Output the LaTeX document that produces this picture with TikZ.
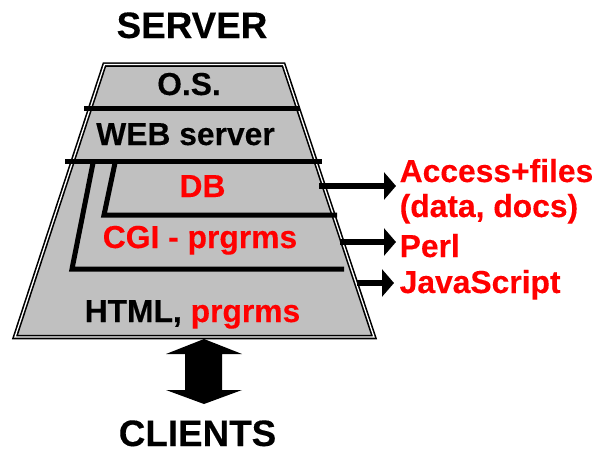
\documentclass[tikz,border=0pt]{standalone}
\usepackage{fontspec}
\setmainfont[FakeBold=0.25]{Liberation Sans}
\usetikzlibrary{arrows.meta}
\definecolor{layergray}{RGB}{192,192,192}
\definecolor{pure}{RGB}{255,0,0}
\tikzset{
  big/.style={anchor=base,inner sep=0pt,font=\fontsize{36.8}{40}\selectfont\bfseries},
  lab/.style={anchor=base west,inner sep=0pt,font=\fontsize{31.8}{36}\selectfont\bfseries},
  labc/.style={lab,anchor=base},
  divider/.style={line width=5pt,line join=miter,line cap=butt},
  outarrow/.style={line width=6.6pt,-{Triangle[length=12pt,width=27pt]}},
  shell/.style={draw=black,line width=1.6pt,double=white,double distance=1.3pt,fill=layergray,line join=miter},
}
\begin{document}
\begin{tikzpicture}[x=1pt,y=-1pt]
\useasboundingbox (0,0) rectangle (594,450);
\fill[white] (0,0) rectangle (594,450);
% body
\path[shell] (104.5,64.5) -- (283.5,64.5) -- (374,337) -- (15,337) -- cycle;
% dividers
\coordinate (a1) at (84,108); \coordinate (a2) at (300,108);
\coordinate (b1) at (65,161); \coordinate (b2) at (322,161);
\coordinate (c1) at (115,163); \coordinate (c2) at (104,215); \coordinate (c3) at (337,215);
\coordinate (d1) at (93,163); \coordinate (d2) at (72,269); \coordinate (d3) at (344,269);
\draw[divider] (a1) -- (a2);
\draw[divider] (b1) -- (b2);
\draw[divider] (c1) -- (c2) -- (c3);
\draw[divider] (d1) -- (d2) -- (d3);
% labels
\node[big] (server) at (192,38) {SERVER};
\node[big] (clients) at (197.5,446) {CLIENTS};
\node[labc] (os) at (189,95) {O.S.};
\node[labc] (web) at (185.5,145) {WEB server};
\node[labc,text=pure] (db) at (202.5,197) {DB};
\node[labc,text=pure] (cgi) at (200,248) {CGI - prgrms};
\node[lab] (html) at (84.5,322) {HTML, \textcolor{pure}{prgrms}};
\node[lab,text=pure] (access) at (399.5,182) {Access+files};
\node[lab,text=pure] (data) at (399.5,217) {(data, docs)};
\node[lab,text=pure] (perl) at (399.5,257) {Perl};
\node[lab,text=pure] (js) at (399.5,293) {JavaScript};
% arrows
\coordinate (e1) at (319,186); \coordinate (e2) at (396,186);
\coordinate (f1) at (340,242); \coordinate (f2) at (396,242);
\coordinate (g1) at (357,283); \coordinate (g2) at (394,283);
\draw[outarrow] (e1) -- (e2);
\draw[outarrow] (f1) -- (f2);
\draw[outarrow] (g1) -- (g2);
% double arrow
\fill[black] (204,339) -- (242,354) -- (222,354) -- (222,390) -- (242,390) -- (204,404) -- (166,390) -- (185,390) -- (185,354) -- (166,354) -- cycle;
\end{tikzpicture}
\end{document}
